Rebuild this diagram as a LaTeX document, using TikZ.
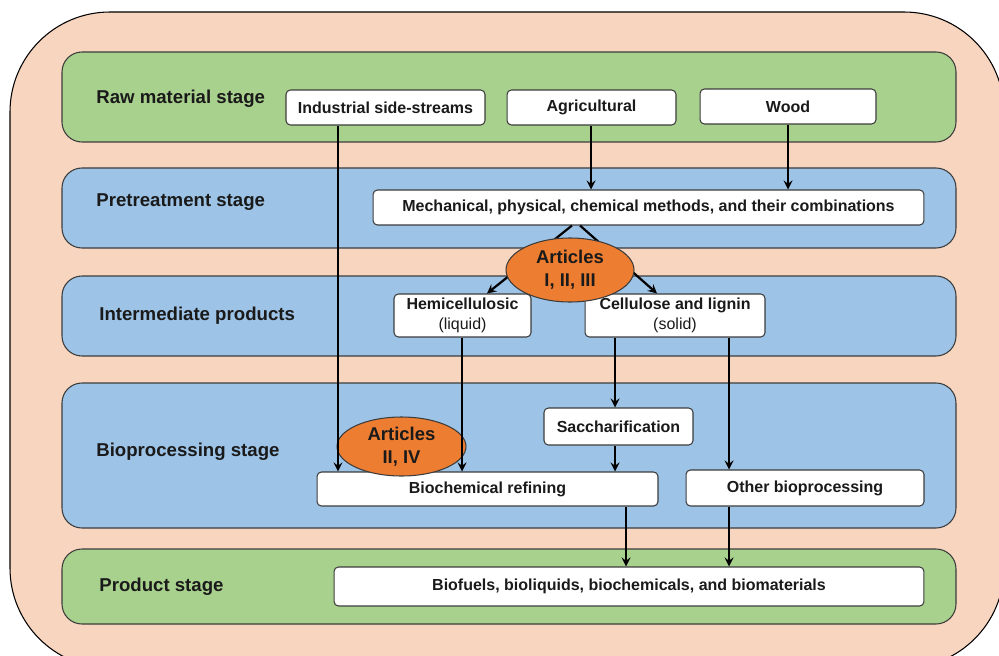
\documentclass[tikz,border=0pt]{standalone}
\usepackage{fontspec}
\setmainfont{Liberation Sans}
\usepackage{tikz}
\usetikzlibrary{arrows,shapes,positioning,calc}
\definecolor{bgpeach}{RGB}{248,213,190}
\definecolor{stgreen}{RGB}{169,209,142}
\definecolor{stblue}{RGB}{157,195,230}
\definecolor{artorange}{RGB}{237,125,49}
\definecolor{edgegray}{RGB}{60,60,60}
\definecolor{txtdark}{RGB}{26,26,26}
\tikzstyle{band} = [draw=edgegray, line width=0.6pt, rounded corners=0.4cm]
\tikzstyle{stagelabel} = [anchor=west, inner sep=0pt, text=txtdark, font=\fontsize{10.6}{12}\selectfont\bfseries]
\tikzstyle{box} = [draw=edgegray, fill=white, rounded corners=2.5pt, line width=0.6pt, inner sep=1pt, align=center, text=txtdark, font=\fontsize{9.1}{11.3}\selectfont\bfseries]
\tikzstyle{article} = [ellipse, draw=edgegray, fill=artorange, line width=0.6pt, inner sep=0pt, align=center, text=txtdark, font=\fontsize{10.5}{13}\selectfont\bfseries]
\tikzstyle{arrow} = [line width=1.25pt,->,>=stealth]

\begin{document}
\begin{tikzpicture}[x=0.02cm, y=-0.02cm]
    \useasboundingbox (0,0) rectangle (999,655);
    \clip (0,0) rectangle (999,655);

    % Background
    \draw[fill=bgpeach, line width=0.6pt, rounded corners=2cm] (10,12) rectangle (1004,668);

    % Stage bands
    \draw[band, fill=stgreen] (62,52) rectangle (956,142);
    \draw[band, fill=stblue] (62,168) rectangle (956,248);
    \draw[band, fill=stblue] (62,276) rectangle (956,356);
    \draw[band, fill=stblue] (62,383) rectangle (956,528);
    \draw[band, fill=stgreen] (62,549) rectangle (956,624);

    % Stage labels
    \node[stagelabel] (rawlbl) at (96,99) {Raw material stage};
    \node[stagelabel] (prelbl) at (96,202) {Pretreatment stage};
    \node[stagelabel] (intlbl) at (99,316) {Intermediate products};
    \node[stagelabel] (biolbl) at (96,452) {Bioprocessing stage};
    \node[stagelabel] (prdlbl) at (99,587) {Product stage};

    % Boxes
    \node[box, minimum width=3.98cm, minimum height=0.7cm] (ind) at (385.5,107.5) {Industrial side-streams};
    \node[box, minimum width=3.38cm, minimum height=0.7cm] (agr) at (591.5,107.5) {Agricultural};
    \node[box, minimum width=3.52cm, minimum height=0.7cm] (wood) at (788,106.5) {Wood};
    \node[box, minimum width=11.02cm, minimum height=0.7cm] (mech) at (648.5,207.5) {Mechanical, physical, chemical methods, and their combinations};
    \node[box, minimum width=2.74cm, minimum height=0.86cm] (hemi) at (462.5,315.5) {Hemicellulosic\\{\mdseries (liquid)}};
    \node[box, minimum width=3.6cm, minimum height=0.86cm] (cell) at (675,315.5) {Cellulose and lignin\\{\mdseries (solid)}};
    \node[box, minimum width=2.98cm, minimum height=0.74cm] (sacc) at (618.5,426.5) {Saccharification};
    \node[box, minimum width=6.82cm, minimum height=0.68cm] (bref) at (487.5,489) {Biochemical refining};
    \node[box, minimum width=4.76cm, minimum height=0.72cm] (other) at (805,488) {Other bioprocessing};
    \node[box, minimum width=11.8cm, minimum height=0.78cm] (prod) at (629,586.5) {Biofuels, bioliquids, biochemicals, and biomaterials};

    % Articles II, IV
    \node[article, minimum width=2.58cm, minimum height=1.18cm] (art2) at (401.5,446.5) {Articles\\II, IV};

    % Arrows
    \draw[arrow] (ind.south -| 338,0) -- (bref.north -| 338,0);
    \draw[arrow] (agr.south -| 591,0) -- (mech.north -| 591,0);
    \draw[arrow] (wood.south) -- (mech.north -| wood.south);
    \draw[arrow] (mech.south -| 572,0) -- (hemi.north -| 487,0);
    \draw[arrow] (mech.south -| 580,0) -- (cell.north -| 657,0);
    \draw[arrow] (hemi.south -| 462,0) -- (bref.north -| 462,0);
    \draw[arrow] (cell.south -| 615,0) -- (sacc.north -| 615,0);
    \draw[arrow] (cell.south -| 729,0) -- (other.north -| 729,0);
    \draw[arrow] (sacc.south -| 615,0) -- (bref.north -| 615,0);
    \draw[arrow] (bref.south -| 626,0) -- (prod.north -| 626,0);
    \draw[arrow] (other.south -| 729,0) -- (prod.north -| 729,0);

    % Articles I, II, III
    \node[article, minimum width=2.56cm, minimum height=1.28cm] (art1) at (570,270) {Articles\\I, II, III};
\end{tikzpicture}
\end{document}
